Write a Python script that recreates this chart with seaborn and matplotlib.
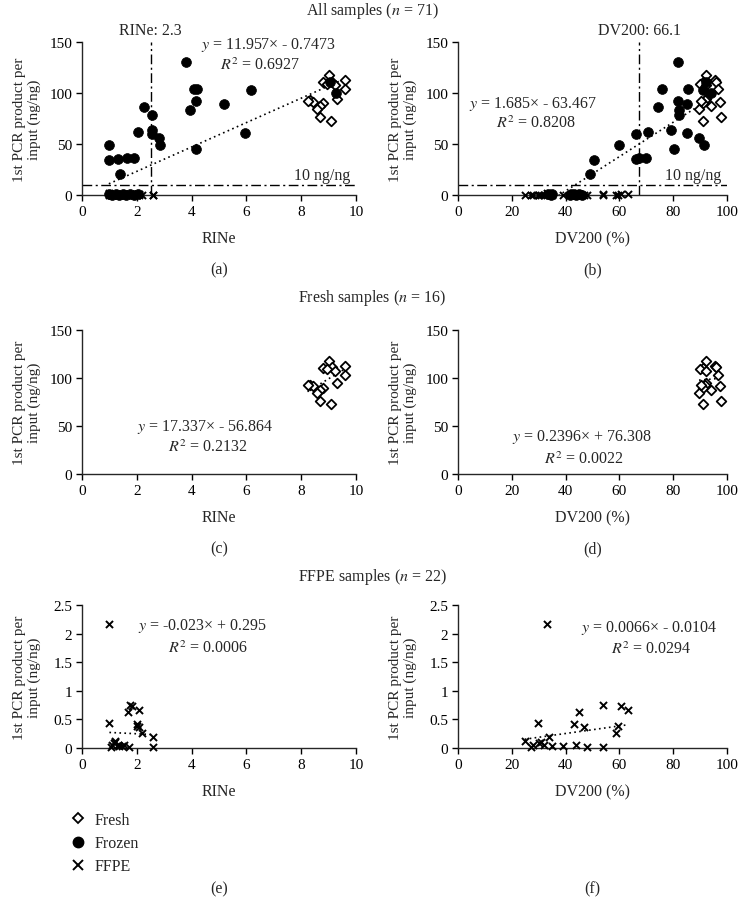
import matplotlib
matplotlib.use("Agg")
import matplotlib.pyplot as plt
from matplotlib.lines import Line2D
import numpy as np
import seaborn as sns

# ---- data ----
# fresh samples (n = 16)
fresh_rine = [9.01, 9.60, 9.12, 8.81, 8.94, 9.24, 9.60, 9.30, 8.33, 8.42, 8.81, 8.67, 8.57, 8.67, 9.08, 8.23]
fresh_dv200 = [92.3, 95.4, 96.0, 91.0, 89.8, 92.3, 96.6, 92.3, 91.7, 97.3, 91.2, 94.2, 89.6, 97.9, 91.0, 90.5]
fresh_yield = [117.5, 112.5, 111.0, 110.5, 109.0, 107.5, 103.5, 94.5, 93.0, 91.5, 90.0, 87.0, 84.0, 76.5, 73.0, 92.5]

# frozen samples (n = 33)
frozen_rine = [3.79, 9.06, 9.26, 4.07, 4.20, 6.16, 4.17, 5.17, 2.27, 3.95, 2.57, 2.57, 2.06, 5.95, 2.57, 2.80,
               2.86, 0.98, 4.16, 1.63, 1.88, 1.30, 0.98, 1.38,
               1.00, 1.10, 1.25, 1.35, 1.50, 1.60, 1.75, 1.90, 2.05]
frozen_dv200 = [81.6, 92.2, 94.0, 76.0, 85.4, 91.0, 81.9, 85.1, 74.4, 82.0, 82.3, 79.2, 70.5, 85.0, 66.1, 89.7,
                91.6, 59.9, 80.4, 67.4, 69.9, 66.1, 50.7, 49.0,
                33.5, 34.5, 35.0, 41.5, 43.0, 44.0, 45.0, 46.0, 42.0]
frozen_yield = [130.0, 111.0, 100.0, 104.0, 103.5, 103.0, 92.0, 89.5, 86.5, 83.0, 78.0, 63.5, 62.0, 61.0, 59.5, 56.0,
                49.5, 49.5, 45.5, 36.5, 36.5, 35.0, 34.0, 21.0,
                0.5, 0.3, 0.8, 0.2, 0.6, 0.4, 1.0, 0.3, 0.5]

# FFPE samples (n = 22)
ffpe_rine = [1.00, 1.76, 1.82, 2.08, 1.68, 1.00, 2.00, 2.08, 2.00, 2.18, 2.60, 1.20, 1.05, 1.10, 1.15, 1.20,
             1.30, 1.35, 1.45, 1.55, 1.70, 2.60]
ffpe_dv200 = [33.0, 53.8, 60.6, 63.1, 45.1, 29.8, 43.3, 46.9, 59.6, 58.6, 33.7, 24.8, 27.0, 28.0, 30.0, 31.0,
              32.0, 35.0, 39.0, 44.0, 48.0, 53.8]
ffpe_yield = [2.16, 0.75, 0.74, 0.66, 0.63, 0.43, 0.42, 0.36, 0.39, 0.27, 0.19, 0.13, 0.02, 0.05, 0.08, 0.10,
              0.06, 0.03, 0.04, 0.05, 0.02, 0.01]

# trend lines: slope, intercept, R^2  (as printed on the chart)
fit_all_rine = (11.957, -0.7473, 0.6927)
fit_all_dv200 = (1.685, -63.467, 0.8208)
fit_fresh_rine = (17.337, -56.864, 0.2132)
fit_fresh_dv200 = (0.2396, 76.308, 0.0022)
fit_ffpe_rine = (-0.023, 0.295, 0.0006)
fit_ffpe_dv200 = (0.0066, -0.0104, 0.0294)

rine_cut, rine_cut_label = 2.5, "RINe: 2.3"
dv200_cut, dv200_cut_label = 67.4, "DV200: 66.1"
yield_cut = 10

sns.set_style("ticks")
plt.rcParams["font.family"] = ["Liberation Serif", "DejaVu Serif"]
plt.rcParams["mathtext.fontset"] = "stix"
plt.rcParams["font.size"] = 11
plt.rcParams["axes.linewidth"] = 1.0

W, H = 743, 912
fig = plt.figure(figsize=(W / 100, H / 100), dpi=100)


def add_axes(left, right, top, bottom):
    return fig.add_axes([left / W, 1 - bottom / H, (right - left) / W, (bottom - top) / H])


def scatter(ax, x, y, kind):
    if kind == "fresh":
        sns.scatterplot(x=x, y=y, ax=ax, marker="D", s=24, color="white", edgecolor="black",
                        linewidth=1.3, clip_on=False, zorder=3)
    elif kind == "frozen":
        sns.scatterplot(x=x, y=y, ax=ax, marker="o", s=50, color="black", edgecolor="black",
                        linewidth=0.5, clip_on=False, zorder=4)
    else:
        sns.scatterplot(x=x, y=y, ax=ax, marker="x", s=26, color="black", linewidth=1.4,
                        clip_on=False, zorder=3)


def trend(ax, xs, fit, eq_xy, r2_xy):
    a, b, r2 = fit
    xx = np.array([min(xs), max(xs)])
    ax.plot(xx, a * xx + b, ls=(0, (1, 2)), color="black", lw=1.2, zorder=2)
    sign = "+" if b >= 0 else "-"
    ax.text(*eq_xy, f"$y$ = {a}\u00d7 {sign} {abs(b)}", ha="center", va="center", fontsize=11.5)
    ax.text(*r2_xy, f"$R^2$ = {r2}", ha="center", va="center", fontsize=11.5)


def style(ax, xmax, xticks, ymax, yticks, yticklabels, xlabel, tag, tag_y, width_px):
    ax.set_xlim(0, xmax)
    ax.set_ylim(0, ymax)
    ax.set_xticks(xticks)
    ax.set_yticks(yticks)
    ax.set_yticklabels(yticklabels)
    ax.tick_params(direction="out", length=4, width=1, pad=3, labelsize=11, colors="black")
    sns.despine(ax=ax)
    ax.set_xlabel(xlabel, fontsize=11.5, labelpad=9)
    ax.set_ylabel("1st PCR product per\ninput (ng/ng)", fontsize=11, linespacing=1.1)
    ax.yaxis.set_label_coords(-41 / width_px, 0.5)
    pos = ax.get_position()
    fig.text(pos.x0 + pos.width / 2, 1 - tag_y / H, tag, ha="center", va="center", fontsize=11.5)


def cut_lines(ax, xcut, label, xmax, ymax):
    dash = (0, (7, 2.5, 1.5, 2.5))
    ax.plot([0, xmax], [yield_cut, yield_cut], ls=dash, color="black", lw=1, zorder=1)
    ax.plot([xcut, xcut], [0, ymax], ls=dash, color="black", lw=1, zorder=1, clip_on=False)
    ax.text(xmax * 0.98, yield_cut + 2, f"{yield_cut} ng/ng", ha="right", va="bottom", fontsize=11.5)
    ax.text(xcut, ymax + 4, label, ha="center", va="bottom", fontsize=11.5)


lx = (82, 356)
rx = (458, 727)
rows = [(43, 196), (331, 475), (606, 749)]
tag_ys = [270, 549, 889]
yt150 = [0, 50, 100, 150]
yt25 = [0, 0.5, 1, 1.5, 2, 2.5]
yl25 = ["0", "0.5", "1", "1.5", "2", "2.5"]

# (a)
ax = add_axes(lx[0], lx[1], *rows[0])
cut_lines(ax, rine_cut, rine_cut_label, 10, 150)
scatter(ax, ffpe_rine, ffpe_yield, "ffpe")
scatter(ax, fresh_rine, fresh_yield, "fresh")
scatter(ax, frozen_rine, frozen_yield, "frozen")
trend(ax, frozen_rine + fresh_rine, fit_all_rine, (6.8, 148), (6.5, 128))
style(ax, 10, range(0, 11, 2), 150, yt150, yt150, "RINe", "(a)", tag_ys[0], lx[1] - lx[0])

# (b)
ax = add_axes(rx[0], rx[1], *rows[0])
cut_lines(ax, dv200_cut, dv200_cut_label, 100, 150)
scatter(ax, ffpe_dv200, ffpe_yield, "ffpe")
scatter(ax, fresh_dv200, fresh_yield, "fresh")
scatter(ax, frozen_dv200, frozen_yield, "frozen")
trend(ax, ffpe_dv200 + fresh_dv200, fit_all_dv200, (28, 90), (29, 71))
style(ax, 100, range(0, 101, 20), 150, yt150, yt150, "DV200 (%)", "(b)", tag_ys[0], rx[1] - rx[0])

# (c)
ax = add_axes(lx[0], lx[1], *rows[1])
scatter(ax, fresh_rine, fresh_yield, "fresh")
trend(ax, fresh_rine, fit_fresh_rine, (4.5, 50), (4.6, 28))
style(ax, 10, range(0, 11, 2), 150, yt150, yt150, "RINe", "(c)", tag_ys[1], lx[1] - lx[0])

# (d)
ax = add_axes(rx[0], rx[1], *rows[1])
scatter(ax, fresh_dv200, fresh_yield, "fresh")
trend(ax, fresh_dv200, fit_fresh_dv200, (46, 40), (47, 16))
style(ax, 100, range(0, 101, 20), 150, yt150, yt150, "DV200 (%)", "(d)", tag_ys[1], rx[1] - rx[0])

# (e)
ax = add_axes(lx[0], lx[1], *rows[2])
scatter(ax, ffpe_rine, ffpe_yield, "ffpe")
trend(ax, ffpe_rine, fit_ffpe_rine, (4.4, 2.15), (4.6, 1.76))
style(ax, 10, range(0, 11, 2), 2.5, yt25, yl25, "RINe", "(e)", tag_ys[2], lx[1] - lx[0])

# (f)
ax = add_axes(rx[0], rx[1], *rows[2])
scatter(ax, ffpe_dv200, ffpe_yield, "ffpe")
trend(ax, ffpe_dv200, fit_ffpe_dv200, (71, 2.12), (72, 1.73))
style(ax, 100, range(0, 101, 20), 2.5, yt25, yl25, "DV200 (%)", "(f)", tag_ys[2], rx[1] - rx[0])

# section titles
for ytitle, txt in [(11, "All samples ($n$ = 71)"), (298, "Fresh samples ($n$ = 16)"),
                    (577, "FFPE samples ($n$ = 22)")]:
    fig.text(372 / W, 1 - ytitle / H, txt, ha="center", va="center", fontsize=11.5)

handles = [
    Line2D([], [], ls="none", marker="D", ms=5.5, mfc="white", mec="black", mew=1.3),
    Line2D([], [], ls="none", marker="o", ms=7.5, mfc="black", mec="black"),
    Line2D([], [], ls="none", marker="x", ms=6.5, mec="black", mew=1.4),
]
fig.legend(handles, ["Fresh", "Frozen", "FFPE"], loc="upper left", bbox_to_anchor=(70 / W, 1 - 813 / H),
           frameon=False, fontsize=11.5, handlelength=1.0, handletextpad=0.55, labelspacing=0.45,
           borderpad=0, borderaxespad=0)

fig.savefig("out.png", dpi=100)
